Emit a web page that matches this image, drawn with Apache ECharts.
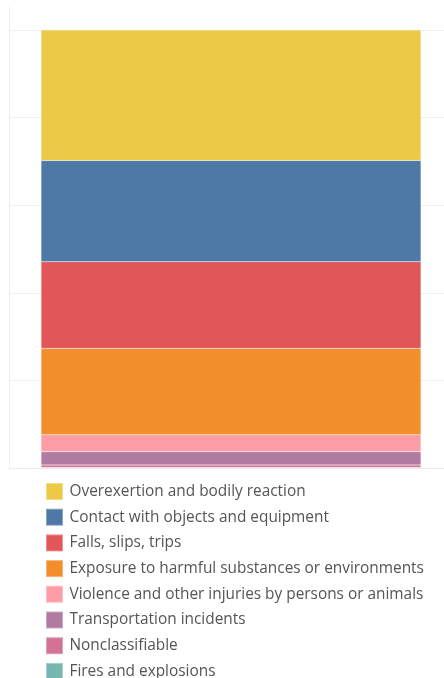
<!DOCTYPE html>
<html>
<head>
<meta charset="utf-8">
<script src="https://cdn.jsdelivr.net/npm/echarts@6/dist/echarts.min.js"></script>
<style>
html,body{margin:0;padding:0;background:#fff;}
#chart{width:444px;height:678px;}
</style>
</head>
<body>
<div id="chart"></div>
<script>
// Categories (legend order, top of stack first)
var categories = [
  'Overexertion and bodily reaction',
  'Contact with objects and equipment',
  'Falls, slips, trips',
  'Exposure to harmful substances or environments',
  'Violence and other injuries by persons or animals',
  'Transportation incidents',
  'Nonclassifiable',
  'Fires and explosions'
];
// Share of total (%)
var values = [29.8, 23.1, 19.8, 19.7, 3.9, 3.0, 0.6, 0.1];
var colors = ['#EDC948', '#4E79A7', '#E15759', '#F28E2B', '#FF9DA7', '#B07AA1', '#D37295', '#76B7B2'];
var xCategory = ['All'];
var yMax = 105.25;
var yInterval = 20;

var series = [];
for (var i = categories.length - 1; i >= 0; i--) {
  series.push({
    name: categories[i],
    type: 'bar',
    stack: 'total',
    xAxisIndex: 1,
    yAxisIndex: 1,
    barWidth: 380,
    data: [values[i]],
    itemStyle: { color: colors[i], borderColor: 'rgba(255,255,255,0.35)', borderWidth: 0.5 },
    emphasis: { disabled: true }
  });
}

var chart = echarts.init(document.getElementById('chart'), null, { renderer: 'canvas' });
chart.setOption({
  animation: false,
  color: colors,
  grid: [
    { left: 9, right: 0, top: 7, bottom: 210, containLabel: false },
    { left: 18, right: 0, top: 7, bottom: 210, containLabel: false }
  ],
  xAxis: [
    {
      gridIndex: 0,
      type: 'category',
      data: xCategory,
      axisLine: { show: true, lineStyle: { color: '#ececec', width: 1 } },
      axisTick: { show: false },
      axisLabel: { show: false },
      splitLine: { show: false }
    },
    {
      gridIndex: 1,
      type: 'category',
      data: xCategory,
      show: false
    }
  ],
  yAxis: [
    {
      gridIndex: 0,
      type: 'value',
      min: 0,
      max: yMax,
      interval: yInterval,
      axisLine: { show: true, lineStyle: { color: '#f0f0f0', width: 1 } },
      axisTick: { show: false },
      axisLabel: { show: false },
      splitLine: { show: true, showMaxLine: false, showMinLine: false, lineStyle: { color: '#f0f0f0', width: 1 } }
    },
    {
      gridIndex: 1,
      type: 'value',
      min: 0,
      max: yMax,
      interval: yInterval,
      show: false,
      splitLine: { show: false }
    }
  ],
  legend: {
    data: categories,
    orient: 'vertical',
    left: 45,
    top: 482,
    height: 300,
    padding: 0,
    itemWidth: 17,
    itemHeight: 17,
    itemGap: 6.7,
    icon: 'rect',
    selectedMode: false,
    textStyle: { fontFamily: 'Open Sans', fontSize: 15.4, lineHeight: 17, color: '#555555', padding: [0, 0, 0, 1.5] }
  },
  series: series
});
</script>
</body>
</html>
